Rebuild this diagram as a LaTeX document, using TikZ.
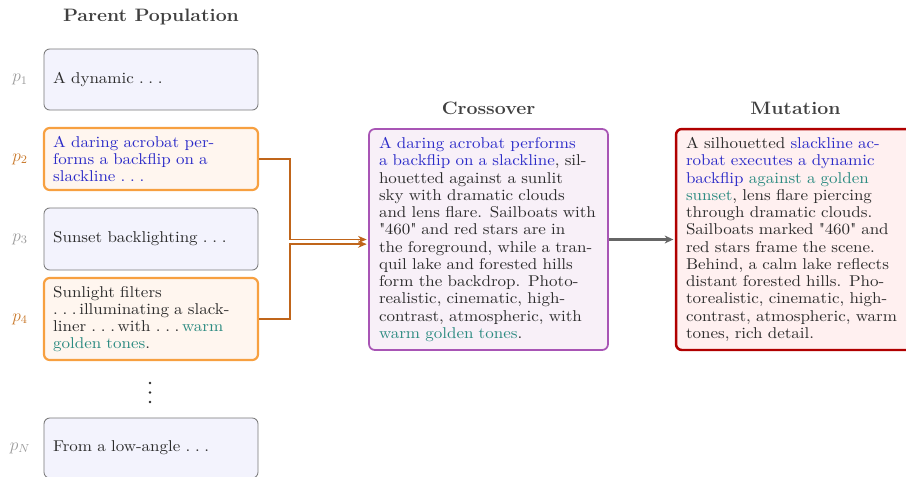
\documentclass[tikz,border=0pt]{standalone}
\usepackage{fontspec}
\setmainfont{Latin Modern Roman}[FakeStretch=1.085]
\usetikzlibrary{arrows.meta}
\definecolor{txt}{HTML}{2B2B2B}
\definecolor{ttl}{HTML}{404040}
\definecolor{lblgray}{HTML}{9A9A9A}
\definecolor{lblor}{HTML}{C8782A}
\definecolor{pfill}{HTML}{F3F3FD}
\definecolor{pdraw}{HTML}{777777}
\definecolor{hfill}{HTML}{FFF6EF}
\definecolor{hdraw}{HTML}{F7A040}
\definecolor{cfill}{HTML}{F8F0F8}
\definecolor{cdraw}{HTML}{A855B5}
\definecolor{mfill}{HTML}{FFF0F0}
\definecolor{mdraw}{HTML}{B00000}
\definecolor{tblue}{HTML}{2B2BC8}
\definecolor{tteal}{HTML}{2A8A80}
\definecolor{brarr}{HTML}{C0651A}
\definecolor{grarr}{HTML}{666666}
\newcommand\pdots{.\kern0.3em.\kern0.3em.}
\newcommand\qd{\textquotedbl}
\tikzset{
  bodyfont/.style={font=\fontsize{10.8}{11.9}\selectfont},
  parentbox/.style={draw=pdraw, fill=pfill, line width=0.6pt, rounded corners=4pt,
    minimum width=147.6pt, text width=135pt, inner xsep=6.3pt, align=left,
    text=txt, bodyfont},
  selbox/.style={parentbox, draw=hdraw, fill=hfill, line width=1.5pt},
  bigbox/.style={rounded corners=4pt, minimum width=164.8pt, minimum height=152.4pt,
    text width=151pt, inner xsep=6.9pt, align=left, text=txt, bodyfont},
  crossbox/.style={bigbox, draw=cdraw, fill=cfill, line width=1.2pt},
  mutbox/.style={bigbox, draw=mdraw, fill=mfill, line width=1.7pt},
  titletext/.style={font=\fontsize{12.4}{15}\selectfont\bfseries, text=ttl},
  plabel/.style={text=lblgray, font=\fontsize{12}{14}\selectfont},
  plabelsel/.style={plabel, text=lblor},
  brarrow/.style={draw=brarr, line width=0.9pt, -{Stealth[length=6pt,width=5pt]}},
  grarrow/.style={draw=grarr, line width=1.8pt, -{Stealth[length=6pt,width=5.5pt]}},
}
\begin{document}
\begin{tikzpicture}[x=0.6897pt, y=-0.6897pt]
\useasboundingbox (0,0) rectangle (906,476);
\clip (0,0) rectangle (906,476);

\node[titletext] (tpar) at (151,17) {Parent Population};
\node[titletext] (tcross) at (488.5,108) {Crossover};
\node[titletext] (tmut) at (795.5,108) {Mutation};

\node[parentbox, minimum height=42.1pt] (p1) at (151,79.5) {A dynamic \pdots};
\node[selbox, minimum height=42.8pt] (p2) at (151,159) {\color{tblue}A daring acrobat per-\\forms a backflip on a\\slackline \pdots};
\node[parentbox, minimum height=42.8pt] (p3) at (151,239) {Sunset backlighting \pdots};
\node[selbox, minimum height=56.6pt] (p4) at (151,319) {Sunlight filters\\\pdots\,illuminating a slack-\\liner \pdots\,with \pdots\,{\color{tteal}warm}\\{\color{tteal}golden tones}.};
\fill[txt] (150,383) circle (1.3) (150,392.5) circle (1.3) (150,402) circle (1.3);
\node[parentbox, minimum height=41.4pt] (pN) at (151,448) {From a low-angle \pdots};

\node[plabel] (l1) at (20,79.5) {$p_1$};
\node[plabelsel] (l2) at (20,159) {$p_2$};
\node[plabel] (l3) at (20,239) {$p_3$};
\node[plabelsel] (l4) at (20,319) {$p_4$};
\node[plabel] (lN) at (20,448) {$p_N$};

\node[crossbox] (cross) at (488.5,239.5) {{\color{tblue}A daring acrobat performs}\\{\color{tblue}a backflip on a slackline}, sil-\\houetted against a sunlit\\sky with dramatic clouds\\and lens flare. Sailboats with\\\qd460\qd{} and red stars are in\\the foreground, while a tran-\\quil lake and forested hills\\form the backdrop. Photo-\\realistic, cinematic, high-\\contrast, atmospheric, with\\{\color{tteal}warm golden tones}.};

\node[mutbox] (mut) at (795.5,239.5) {A silhouetted {\color{tblue}slackline ac-}\\{\color{tblue}robat executes a dynamic}\\{\color{tblue}backflip} {\color{tteal}against a golden}\\{\color{tteal}sunset}, lens flare piercing\\through dramatic clouds.\\Sailboats marked \qd460\qd{} and\\red stars frame the scene.\\Behind, a calm lake reflects\\distant forested hills. Pho-\\torealistic, cinematic, high-\\contrast, atmospheric, warm\\tones, rich detail.};

\draw[brarrow, shorten >=1pt] (p2.east) -- ++(31,0) |- (cross.west);
\draw[brarrow, shorten >=1pt] (p4.east) -- ++(31,0) |- ([yshift=-3.2pt]cross.west);
\draw[grarrow, shorten >=1pt] (cross.east) -- (mut.west);
\end{tikzpicture}
\end{document}
